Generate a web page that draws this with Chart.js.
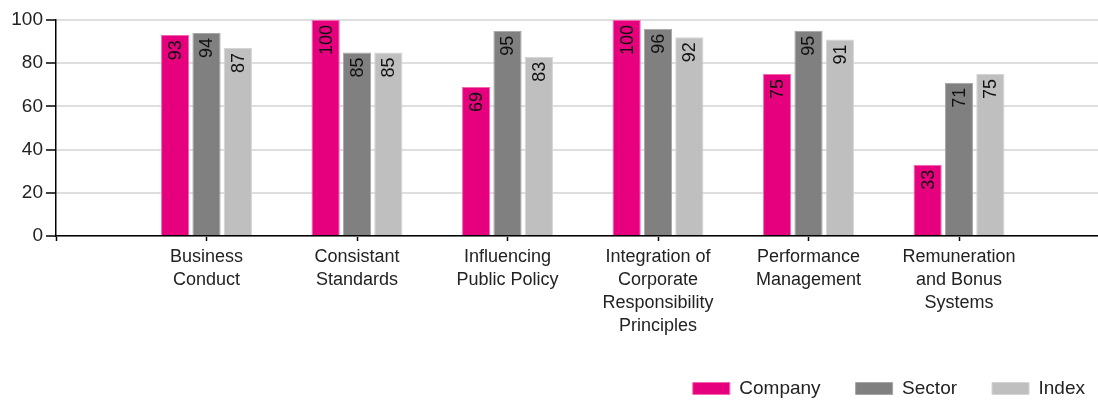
<!DOCTYPE html>
<html>
<head>
<meta charset="utf-8">
<script src="https://cdn.jsdelivr.net/npm/chart.js@4.4.1/dist/chart.umd.min.js"></script>
<style>
html, body { margin: 0; padding: 0; background: #fff; overflow: hidden; width: 1098px; height: 401px; }
#wrap { width: 1120px; height: 401px; }
</style>
</head>
<body>
<div id="wrap"><canvas id="c" width="1120" height="401"></canvas></div>
<script>
// ---- data ----
const categories = [
  ['Business', 'Conduct'],
  ['Consistant', 'Standards'],
  ['Influencing', 'Public Policy'],
  ['Integration of', 'Corporate', 'Responsibility', 'Principles'],
  ['Performance', 'Management'],
  ['Remuneration', 'and Bonus', 'Systems']
];
const seriesNames = ['Company', 'Sector', 'Index'];
const companyValues = [93, 100, 69, 100, 75, 33];
const sectorValues = [94, 85, 95, 96, 95, 71];
const indexValues = [87, 85, 83, 92, 91, 75];
const yTicks = [0, 20, 40, 60, 80, 100];

// ---- chart ----
const FONT = "'Liberation Sans', Arial, sans-serif";
const colors = ['#E6007E', '#808080', '#BFBFBF'];
const edgeColors = ['#F266B2', '#A6A6A6', '#D4D4D4'];
const allValues = [companyValues, sectorValues, indexValues];

const toPoints = vals => vals.map((v, i) => ({ x: i + 1, y: v }));

const valueLabels = {
  id: 'valueLabels',
  afterDatasetsDraw(chart) {
    const ctx = chart.ctx;
    ctx.save();
    ctx.font = "18px " + FONT;
    ctx.fillStyle = '#111';
    ctx.textAlign = 'right';
    ctx.textBaseline = 'middle';
    chart.data.datasets.forEach((ds, di) => {
      const meta = chart.getDatasetMeta(di);
      meta.data.forEach((bar, i) => {
        const v = ds.data[i].y;
        ctx.save();
        ctx.translate(bar.x + 1, bar.y + 5);
        ctx.rotate(-Math.PI / 2);
        ctx.fillText(String(v), 0, 0);
        ctx.restore();
      });
    });
    ctx.restore();
  }
};

const chart = new Chart(document.getElementById('c'), {
  type: 'bar',
  data: {
    datasets: seriesNames.map((name, k) => ({
      label: name,
      data: toPoints(allValues[k]),
      backgroundColor: colors[k],
      borderColor: edgeColors[k],
      borderWidth: 1,
      categoryPercentage: 0.625,
      barPercentage: 0.9
    }))
  },
  options: {
    responsive: false,
    animation: false,
    layout: { padding: { top: 20, left: 0, right: 0, bottom: 0 } },
    plugins: {
      tooltip: { enabled: false },
      legend: {
        position: 'bottom',
        align: 'end',
        maxHeight: 57,
        labels: {
          boxWidth: 37,
          boxHeight: 12,
          padding: 35,
          color: '#222',
          font: { family: FONT, size: 19 }
        }
      }
    },
    scales: {
      x: {
        type: 'linear',
        offset: false,
        min: 0,
        max: (1120 - 56) / 150.5,
        afterFit(scale) { scale.height = 108; },
        afterBuildTicks(scale) {
          const t = [0];
          categories.forEach((c, i) => t.push(i + 1));
          scale.ticks = t.map(v => ({ value: v }));
        },
        ticks: {
          autoSkip: false,
          maxRotation: 0,
          minRotation: 0,
          padding: 5,
          color: '#222',
          font: { family: FONT, size: 18, lineHeight: 1.27 },
          callback: (v) => (v >= 1 && v <= categories.length) ? categories[v - 1] : ''
        },
        grid: {
          offset: false,
          drawOnChartArea: false,
          drawTicks: true,
          tickLength: 5,
          tickColor: '#000',
          tickWidth: 1.5
        },
        border: { color: '#000', width: 1.5 }
      },
      y: {
        min: 0,
        max: 100,
        afterFit(scale) { scale.width = 56; },
        afterBuildTicks(scale) { scale.ticks = yTicks.map(v => ({ value: v })); },
        ticks: {
          padding: 3,
          color: '#222',
          font: { family: FONT, size: 19 }
        },
        grid: {
          color: '#dedede',
          lineWidth: 2,
          tickLength: 10,
          tickColor: '#000',
          tickWidth: 1.5
        },
        border: { color: '#000', width: 1.5 }
      }
    }
  },
  plugins: [valueLabels]
});
</script>
</body>
</html>
